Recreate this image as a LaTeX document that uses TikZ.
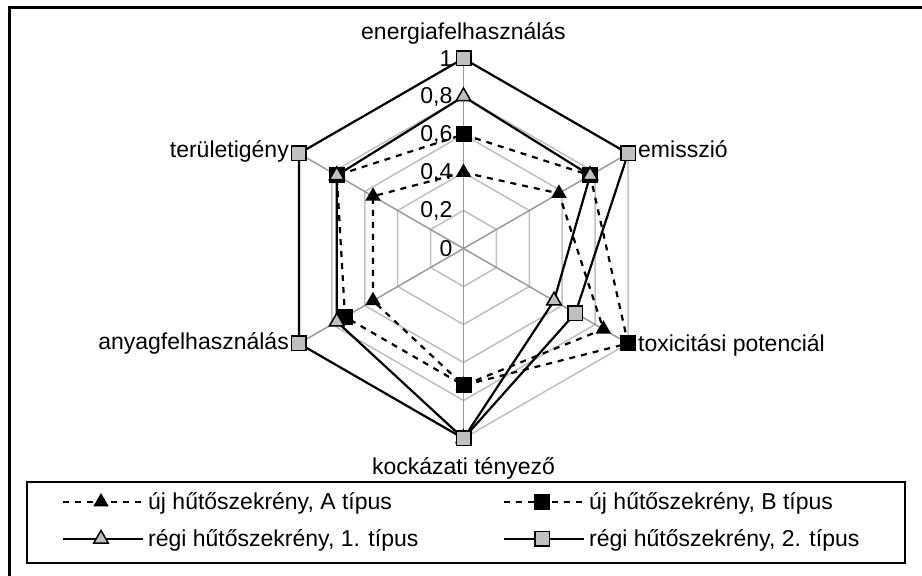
\documentclass[tikz,border=0pt]{standalone}
\usepackage{fontspec}
\setmainfont{Liberation Sans}
\usetikzlibrary{positioning, shapes.geometric}

\definecolor{gridlight}{RGB}{192,192,192}
\definecolor{gridmid}{RGB}{155,155,155}
\definecolor{markgray}{RGB}{192,192,192}

\def\radarR{190}

\begin{document}
\begin{tikzpicture}[x=1pt, y=1pt, font=\fontsize{23}{27}\selectfont,
  ring/.style={draw=gridlight, line width=1.5pt},
  spoke/.style={draw=gridmid, line width=1.5pt},
  newser/.style={line width=2.2pt, dash pattern=on 6pt off 6pt},
  oldser/.style={line width=2.2pt},
  blktri/.style={regular polygon, regular polygon sides=3, fill=black, inner sep=0pt, minimum size=18pt},
  graytri/.style={regular polygon, regular polygon sides=3, fill=markgray, draw=black, line width=1.5pt, inner sep=0pt, minimum size=17pt},
  blksq/.style={rectangle, fill=black, inner sep=0pt, minimum size=16pt},
  graysq/.style={rectangle, fill=markgray, draw=black, line width=1.5pt, inner sep=0pt, minimum size=14.5pt},
  lbl/.style={inner sep=0pt}]

\useasboundingbox (0,0) rectangle (922,576);

% Chart frame (left and top edges inside the picture)
\coordinate (frameBL) at (9.5,0);
\coordinate (frameTL) at (9.5,568.5);
\coordinate (frameTR) at (922,568.5);
\draw[line width=2.5pt] (frameBL) -- (frameTL) -- (frameTR);

\begin{scope}[shift={(463.5,327.5)}]
% Grid rings and spokes
\foreach \v in {0.2,0.4,0.6,0.8,1}
  \draw[ring] (90:{\v*\radarR}) -- (30:{\v*\radarR}) -- (-30:{\v*\radarR})
    -- (-90:{\v*\radarR}) -- (210:{\v*\radarR}) -- (150:{\v*\radarR}) -- cycle;
\coordinate (ctr) at (0,0);
\foreach \ang [count=\i] in {90,30,-30,-90,210,150} {
  \coordinate (ax\i) at (\ang:\radarR);
  \draw[spoke] (ctr) -- (ax\i);
}

% Axis values
\foreach \v/\t [count=\i] in {0/0, 0.2/{0,2}, 0.4/{0,4}, 0.6/{0,6}, 0.8/{0,8}, 1/1}
  \node[lbl, anchor=east] (tick\i) at (-11,{\v*\radarR}) {\t};

% Data points
\foreach \ang/\v [count=\i] in {90/0.4, 30/0.58, -30/0.85, -90/0.72, 210/0.55, 150/0.55}
  \coordinate (a\i) at (\ang:{\v*\radarR});
\foreach \ang/\v [count=\i] in {90/0.6, 30/0.77, -30/1, -90/0.72, 210/0.72, 150/0.77}
  \coordinate (b\i) at (\ang:{\v*\radarR});
\foreach \ang/\v [count=\i] in {90/0.8, 30/0.77, -30/0.55, -90/1, 210/0.77, 150/0.77}
  \coordinate (c\i) at (\ang:{\v*\radarR});
\foreach \ang/\v [count=\i] in {90/1, 30/1, -30/0.68, -90/1, 210/1, 150/1}
  \coordinate (d\i) at (\ang:{\v*\radarR});
\end{scope}

% Series
\draw[newser] (a1) -- (a2) -- (a3) -- (a4) -- (a5) -- (a6) -- cycle;
\foreach \i in {1,...,6} \node[blktri] (ma\i) at (a\i) {};
\draw[newser] (b1) -- (b2) -- (b3) -- (b4) -- (b5) -- (b6) -- cycle;
\foreach \i in {1,...,6} \node[blksq] (mb\i) at (b\i) {};
\draw[oldser] (c1) -- (c2) -- (c3) -- (c4) -- (c5) -- (c6) -- cycle;
\foreach \i in {1,...,6} \node[graytri] (mc\i) at (c\i) {};
\draw[oldser] (d1) -- (d2) -- (d3) -- (d4) -- (d5) -- (d6) -- cycle;
\foreach \i in {1,...,6} \node[graysq] (md\i) at (d\i) {};

% Category labels
\node[lbl, anchor=base] (energia) at (463.5,536) {energiafelhasználás};
\node[lbl, anchor=base west] (emisszio) at (638,418.7) {emisszió};
\node[lbl, anchor=base west] (toxic) at (638,224.3) {toxicitási potenciál};
\node[lbl, anchor=base] (kockazat) at (463.5,101) {kockázati tényező};
\node[lbl, anchor=base east] (anyag) at (289,226) {anyagfelhasználás};
\node[lbl, anchor=base east] (terulet) at (289,418.7) {területigény};

% Legend
\draw[line width=2pt] (27,13) rectangle (905,94);
\coordinate (la0) at (63,74);  \coordinate (la1) at (143,74);
\coordinate (lb0) at (504,74); \coordinate (lb1) at (584,74);
\coordinate (lc0) at (63,37);  \coordinate (lc1) at (143,37);
\coordinate (ld0) at (504,37); \coordinate (ld1) at (584,37);
\draw[newser] (la0) -- (la1);
\node[blktri] (lma) at (101,74) {};
\draw[newser] (lb0) -- (lb1);
\node[blksq] (lmb) at (542,74) {};
\draw[oldser] (lc0) -- (lc1);
\node[graytri] (lmc) at (101,37) {};
\draw[oldser] (ld0) -- (ld1);
\node[graysq] (lmd) at (542,37) {};
\node[lbl, anchor=base west] (txta) at (148,66) {új hűtőszekrény, A típus};
\node[lbl, anchor=base west] (txtb) at (589,66) {új hűtőszekrény, B típus};
\node[lbl, anchor=base west] (txtc) at (148,29) {régi hűtőszekrény, 1. típus};
\node[lbl, anchor=base west] (txtd) at (589,29) {régi hűtőszekrény, 2. típus};

\end{tikzpicture}
\end{document}
